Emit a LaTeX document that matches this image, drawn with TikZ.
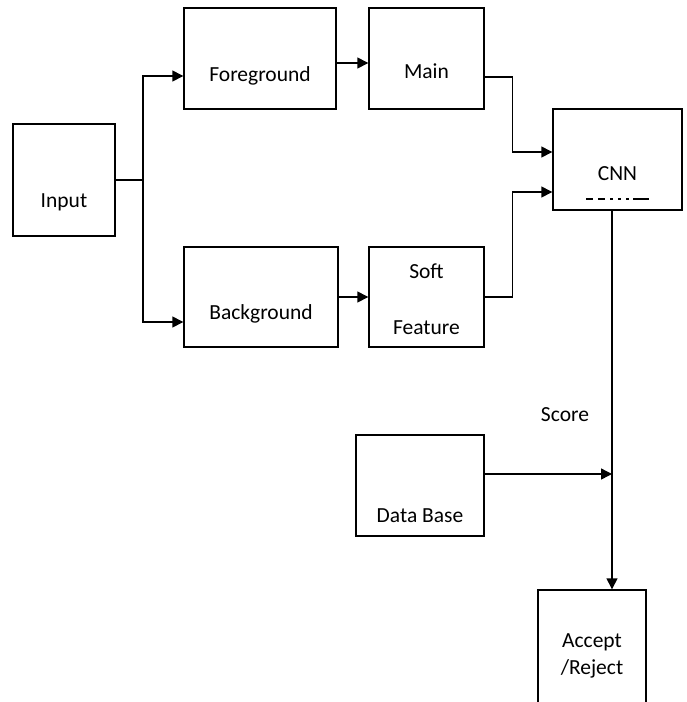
\documentclass[tikz,border=0pt]{standalone}
\usepackage{fontspec}
\setmainfont{Carlito}
\usetikzlibrary{arrows.meta}

\begin{document}
\begin{tikzpicture}[x=1pt, y=-1pt, line width=1.4pt,
  font=\fontsize{21.5}{25}\selectfont,
  block/.style={draw, rectangle, inner sep=0pt},
  flow/.style={-{Triangle[length=11pt,width=11pt]}}]
\clip (0,0) rectangle (686,702);
% Define the nodes
\node[block, minimum width=102pt, minimum height=112pt, label={[yshift=-22pt]center:Input}] at (64,180) (input) {};
\node[block, minimum width=152pt, minimum height=101pt, label={[yshift=-17.5pt]center:Foreground}] at (260,58.5) (fg) {};
\node[block, minimum width=115pt, minimum height=101pt, label={[yshift=-12.5pt]center:Main}] at (426.5,58.5) (main) {};
\node[block, minimum width=129pt, minimum height=101pt, label={[yshift=-14.5pt]center:CNN}] at (617.5,159.5) (cnn) {};
\node[block, minimum width=154pt, minimum height=100pt, label={[yshift=-17pt]center:Background}] at (261,297) (bg) {};
\node[block, minimum width=115pt, minimum height=100pt, label={[yshift=-2pt,align=center]center:Soft\\[31pt]Feature}] at (426.5,297) (soft) {};
\node[block, minimum width=128pt, minimum height=101pt, label={[yshift=-30.5pt]center:Data Base}] at (420,485.5) (db) {};
\node[block, minimum width=108pt, minimum height=120pt, label={[yshift=-6pt,align=center]center:Accept\\[2pt]/Reject}] at (592,650) (acc) {};
\node at (565,415) (score) {Score};
\coordinate (split) at (143,180);
\coordinate (merge) at (612,474);
% Draw the paths
\draw[line width=1.4pt, dash pattern=on 7pt off 5pt on 7pt off 5pt on 3pt off 5pt on 3pt off 5pt on 3pt off 4pt on 16pt]
  ([xshift=-31.5pt,yshift=-39.5pt]cnn.center) -- ++(66,0);
\draw (input.east) -- (split);
\draw[flow] (split) |- ([yshift=-17.5pt]fg.west);
\draw[flow] (split) |- ([yshift=-25pt]bg.west);
\draw[flow] ([yshift=-4.5pt]fg.east) -- ([yshift=-4.5pt]main.west);
\draw[flow] ([yshift=-18.5pt]main.east) -- ++(28,0) |- ([yshift=7.5pt]cnn.west);
\draw[flow] (bg.east) -- (soft.west);
\draw[flow] (soft.east) -- ++(28,0) |- ([yshift=-32.5pt]cnn.west);
\draw[flow] ([yshift=11.5pt]db.east) -- (merge);
\draw[flow] ([xshift=-5.5pt]cnn.south) -- (acc.north -| merge);
\end{tikzpicture}
\end{document}
